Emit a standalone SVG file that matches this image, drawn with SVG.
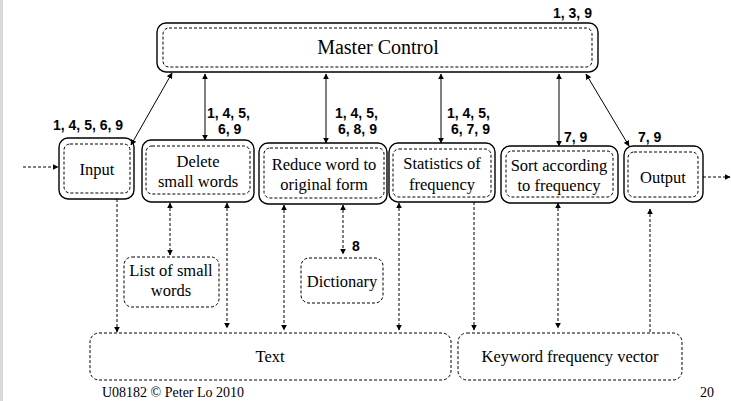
<svg xmlns="http://www.w3.org/2000/svg" width="731" height="401" viewBox="0 0 731 401">
<defs>
<marker id="ah" viewBox="0 0 10 10" refX="9" refY="5" markerWidth="6" markerHeight="6" orient="auto-start-reverse" markerUnits="userSpaceOnUse">
<path d="M0,0 L10,5 L0,10 z" fill="#000"/>
</marker>
<style>
.outer{fill:#fff;stroke:#000;stroke-width:1.4}
.inner{fill:none;stroke:#000;stroke-width:1;stroke-dasharray:3,2}
.dbox{fill:#fff;stroke:#000;stroke-width:1;stroke-dasharray:3,2}
.t{font-size:16.5px;fill:#000;text-anchor:middle}
.big{font-size:20px}
.lab{font-size:14px;font-weight:bold;fill:#000}
.s{stroke:#000;stroke-width:1;fill:none}
.d{stroke:#000;stroke-width:1;fill:none;stroke-dasharray:3,2}
</style>
</defs>
<rect x="0" y="0" width="731" height="401" fill="#fff"/>
<rect x="0" y="0" width="3" height="401" fill="#d9d9d9"/>

<g font-family="Liberation Serif, Times New Roman, Times, DejaVu Serif, serif">
<g id="master">
<rect class="outer" x="157" y="23" width="441" height="49" rx="9"/>
<rect class="inner" x="163" y="28" width="429" height="39" rx="6"/>
<text class="t big" x="378" y="54">Master Control</text>
</g>
<g id="input">
<rect class="outer" x="59" y="138" width="75" height="61" rx="9"/>
<rect class="inner" x="64" y="144" width="66" height="49" rx="6"/>
<text class="t" x="97" y="175">Input</text>
</g>
<g id="delete">
<rect class="outer" x="142" y="140" width="112" height="62" rx="9"/>
<rect class="inner" x="146" y="146" width="104" height="48" rx="6"/>
<text class="t" x="198" y="167">Delete</text>
<text class="t" x="198" y="187">small words</text>
</g>
<g id="reduce">
<rect class="outer" x="259" y="143" width="128" height="61" rx="9"/>
<rect class="inner" x="264" y="148" width="120" height="50" rx="6"/>
<text class="t" x="324" y="170">Reduce word to</text>
<text class="t" x="324" y="190">original form</text>
</g>
<g id="statistics">
<rect class="outer" x="389" y="143" width="106" height="59" rx="9"/>
<rect class="inner" x="393" y="149" width="98" height="48" rx="6"/>
<text class="t" x="442" y="169">Statistics of</text>
<text class="t" x="442" y="190">frequency</text>
</g>
<g id="sort">
<rect class="outer" x="501" y="146" width="117" height="57" rx="9"/>
<rect class="inner" x="506" y="151" width="107" height="46" rx="6"/>
<text class="t" x="559" y="171">Sort according</text>
<text class="t" x="559" y="191">to frequency</text>
</g>
<g id="output">
<rect class="outer" x="624" y="146" width="79" height="56" rx="9"/>
<rect class="inner" x="628" y="152" width="70" height="45" rx="6"/>
<text class="t" x="663" y="183">Output</text>
</g>
<g id="list">
<rect class="dbox" x="124" y="257" width="95" height="50" rx="8"/>
<text class="t" x="171" y="276">List of small</text>
<text class="t" x="171" y="296">words</text>
</g>
<g id="dictionary">
<rect class="dbox" x="301" y="258" width="82" height="45" rx="8"/>
<text class="t" x="342" y="287">Dictionary</text>
</g>
<g id="text">
<rect class="dbox" x="90" y="333" width="361" height="47" rx="9"/>
<text class="t" x="270" y="362">Text</text>
</g>
<g id="keyword">
<rect class="dbox" x="458" y="333" width="224" height="47" rx="9"/>
<text class="t" x="570" y="362">Keyword frequency vector</text>
</g>
<text x="102" y="397" font-size="14">U08182 © Peter Lo 2010</text>
<text x="700" y="397" font-size="14">20</text>
</g>

<g id="connectors">
<line class="d" x1="23" y1="167" x2="58" y2="167" marker-end="url(#ah)"/>
<line class="d" x1="703" y1="177" x2="730" y2="177" marker-end="url(#ah)"/>
<line class="s" x1="172" y1="73" x2="131" y2="145" marker-start="url(#ah)" marker-end="url(#ah)"/>
<line class="s" x1="205" y1="74" x2="205" y2="140" marker-start="url(#ah)" marker-end="url(#ah)"/>
<line class="s" x1="326" y1="74" x2="326" y2="143" marker-start="url(#ah)" marker-end="url(#ah)"/>
<line class="s" x1="441" y1="74" x2="441" y2="143" marker-start="url(#ah)" marker-end="url(#ah)"/>
<line class="s" x1="559" y1="74" x2="559" y2="146" marker-start="url(#ah)" marker-end="url(#ah)"/>
<line class="s" x1="586" y1="74" x2="629" y2="146" marker-start="url(#ah)" marker-end="url(#ah)"/>
<line class="d" x1="117" y1="199" x2="117" y2="332" marker-end="url(#ah)"/>
<line class="d" x1="170" y1="203" x2="170" y2="255" marker-start="url(#ah)" marker-end="url(#ah)"/>
<line class="d" x1="227" y1="203" x2="227" y2="328" marker-start="url(#ah)" marker-end="url(#ah)"/>
<line class="d" x1="284" y1="205" x2="284" y2="330" marker-start="url(#ah)" marker-end="url(#ah)"/>
<line class="d" x1="343" y1="205" x2="343" y2="254" marker-start="url(#ah)" marker-end="url(#ah)"/>
<line class="d" x1="399" y1="203" x2="399" y2="330" marker-start="url(#ah)" marker-end="url(#ah)"/>
<line class="d" x1="474" y1="202" x2="474" y2="330" marker-end="url(#ah)"/>
<line class="d" x1="558" y1="203" x2="558" y2="328" marker-start="url(#ah)" marker-end="url(#ah)"/>
<line class="d" x1="650" y1="332" x2="650" y2="209" marker-end="url(#ah)"/>
</g>

<g id="labels" font-family="Liberation Sans, Arial, sans-serif">
<text class="lab" x="553" y="18">1, 3, 9</text>
<text class="lab" x="53" y="130">1, 4, 5, 6, 9</text>
<text class="lab" x="207" y="118">1, 4, 5,</text>
<text class="lab" x="218" y="134">6, 9</text>
<text class="lab" x="335" y="118">1, 4, 5,</text>
<text class="lab" x="338" y="134">6, 8, 9</text>
<text class="lab" x="447" y="118">1, 4, 5,</text>
<text class="lab" x="451" y="134">6, 7, 9</text>
<text class="lab" x="564" y="142">7, 9</text>
<text class="lab" x="638" y="142">7, 9</text>
<text class="lab" x="352" y="251">8</text>
</g>
</svg>
